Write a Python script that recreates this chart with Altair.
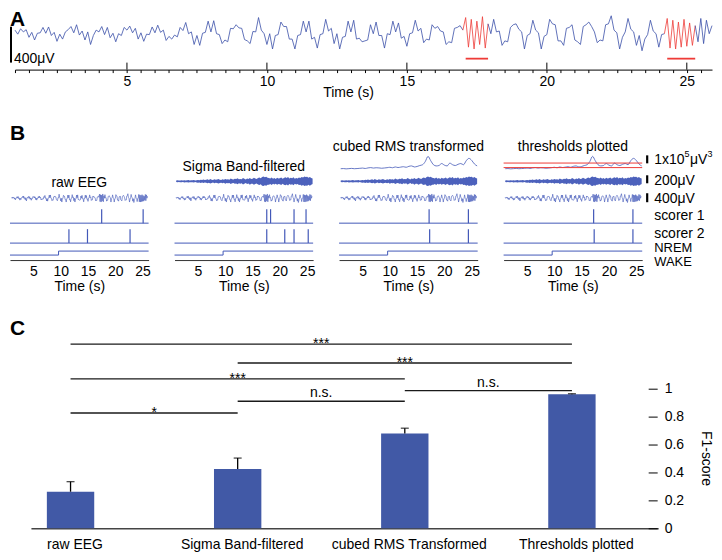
import altair as alt
import pandas as pd

FONT = "Liberation Sans"
BLUE = "#3a4fa8"
BLUE_B = "#4258b8"
RED = "#ee3b37"
BAR = "#4159a6"
INK = "#000000"

# ---------------- data ----------------
# Panel A: raw EEG trace (µV), one sample every 0.1 s starting at 1.0 s
EEG_T0 = 1.0
EEG_DT = 0.1
EEG_UV = [
    40, -5, 55, 20, 45, -40, 15, -70, 5, 10,
    70, 5, 75, -20, 15, -85, -5, -60, 20, 45,
    80, 10, 100, -15, 30, -70, 20, -120, -20, 40,
    20, 80, -10, 70, -45, 5, -90, 0, -20, 70,
    40, 85, 10, 60, -60, 10, -85, -5, -10, 75,
    10, 95, 15, 40, -75, -30, -60, -15, -35, 70,
    35, 125, 0, 20, -120, -20, -130, 5, 15, 140,
    20, 145, 0, -10, -110, -70, -90, 60, 55, 100,
    65, 60, -65, -80, -110, 25, 20, 180, 40, 0,
    -120, 0, -170, -20, -10, 130, 80, 80, -60, -60,
    -170, -20, -10, 140, 20, 140, -60, -40, -160, -10,
    0, 160, 30, 60, -110, 0, -170, -40, -30, 140,
    20, 150, -60, -50, -90, -80, -70, 100, 0, 130,
    -20, -20, -160, 0, -10, 140, 20, 120, -50, -30,
    -140, 0, 10, 150, 30, 60, -100, -60, -70, 100,
    60, 80, 30, 20, -120, -90, -100, 60, 70, 90,
    40, 180, -150, 160, -170, 140, -120, 190, -160, 110,
    0, 160, 20, 30, -130, -80, -90, 70, 100, 110,
    50, 20, -170, -20, 0, 150, 40, 10, -170, -30,
    -10, 160, 110, 100, -80, -80, -130, 60, 70, 100,
    -70, -90, -120, 80, 100, 130, 80, 20, -100, -70,
    -80, 100, 110, 200, 40, 10, -170, -40, 20, 170,
    50, 20, -130, -20, -190, -60, -10, 150, 30, 0,
    -150, -10, 0, 170, -160, 150, -170, 130, -150, 160,
    -140, 120, -130, 90, -90, 170, -110, 150, 0, 90,
]
SPINDLE_START = [17.1, 24.3]
SPINDLE_END = [17.9, 25.3]
A_MAJOR = [5, 10, 15, 20, 25]

# Panel B: sigma-band envelope (µV) every 0.25 s from 1.0 s
SIGMA_T0 = 1.0
SIGMA_DT = 0.25
SIGMA_ENV_UV = [
    20, 25, 18, 22, 24, 20, 28, 22, 26, 30, 22, 27, 25, 32, 20, 28,
    35, 28, 40, 30, 45, 30, 38, 50, 35, 55, 40, 32, 48, 36, 42, 55,
    40, 35, 50, 38, 60, 45, 52, 40, 70, 50, 45, 65, 55, 75, 48, 60,
    50, 80, 62, 45, 70, 55, 85, 60, 65, 90, 70, 55, 80, 95, 75, 110,
    120, 100, 115, 90, 85, 70, 95, 65, 80, 60, 90, 70, 75, 95, 65, 85,
    100, 80, 105, 70, 90, 75, 100, 65, 80, 70, 95, 85, 110, 95, 120, 105,
    115, 90, 110, 85, 70,
]
# cubed RMS (x1e5 µV^3) every 0.5 s from 1.0 s
RMS_T0 = 1.0
RMS_DT = 0.5
RMS_E5 = [
    0.20, 0.22, 0.18, 0.21, 0.24, 0.20, 0.22, 0.25, 0.28, 0.23,
    0.30, 0.34, 0.28, 0.32, 0.30, 0.26, 0.29, 0.33, 0.38, 0.32,
    0.42, 0.35, 0.40, 0.45, 0.38, 0.50, 0.55, 0.42, 0.48, 0.60,
    0.70, 1.10, 1.75, 1.20, 0.70, 0.55, 0.60, 0.85, 0.65, 0.55,
    0.90, 0.70, 0.60, 0.75, 0.85, 0.70, 1.20, 1.50, 1.25, 0.80,
    0.55,
]
THRESH_E5 = [0.91, 0.34]
HYP_T = [0.7, 9.6, 26.1]
HYP_STATE = ["WAKE", "NREM", "NREM"]
B_TITLES = ["raw EEG", "Sigma Band-filtered", "cubed RMS transformed", "thresholds plotted"]
SCORER1 = [[17.5, 25.1], [17.6, 18.3, 22.6, 24.8], [17.2, 24.4], [17.2, 24.4]]
SCORER2 = [[11.5, 14.9, 22.7], [17.6, 20.9, 22.6, 25.2], [17.3, 24.4], [17.3, 24.4]]
B_TICKS = [5, 10, 15, 20, 25]
B_SIDE_LABELS = ["200μV", "400μV", "scorer 1", "scorer 2", "NREM", "WAKE"]
RMS_UNIT_PARTS = ["1x10", "5", "μV", "3"]

# Panel C: F1 scores
METHODS = ["raw EEG", "Sigma Band-filtered", "cubed RMS Transformed", "Thresholds plotted"]
F1_MEAN = [0.262, 0.424, 0.679, 0.960]
F1_ERR = [0.072, 0.079, 0.038, 0.004]
SIG_FROM = [0, 1, 0, 2, 1, 0]
SIG_TO = [3, 3, 2, 3, 2, 1]
SIG_TEXT = ["***", "***", "***", "n.s.", "n.s.", "*"]
F1_TICKS = [0, 0.2, 0.4, 0.6, 0.8, 1]

# ---------------- layout ----------------
WA, HA = 706, 61
WB, HB = 139, 135
WC, HC = 650, 210
SIG_LEVEL = [1.319, 1.184, 1.071, 0.986, 0.910, 0.826]

# ---------------- panel A ----------------
xA = alt.Scale(domain=[1.0, 25.9], range=[5, 704], nice=False, zero=False)
yA = alt.Scale(domain=[-400, 278], nice=False, zero=False)
A_TICKS = [1.0 + 0.5 * k for k in range(50)]
axA = alt.Axis(values=A_TICKS, format="~g",
               labelExpr="datum.value % 5 === 0 ? datum.label : ''",
               labelOverlap=False, labelFlush=False,
               tickSize=3, tickColor=INK, tickWidth=1,
               domainColor=INK, domainWidth=1,
               labelPadding=2, labelFontSize=14, labelColor=INK,
               title="Time (s)", titleFontSize=14, titleFontWeight="normal",
               titleColor=INK, titleX=339, titleY=23, titleBaseline="middle",
               titleAlign="center", grid=False)

eeg_t = [round(EEG_T0 + EEG_DT * k, 3) for k in range(len(EEG_UV))]
rows = []
seg = 0
prev = None
for t, v in zip(eeg_t, EEG_UV):
    kind = "spindle" if any(a <= t <= b for a, b in zip(SPINDLE_START, SPINDLE_END)) else "eeg"
    if prev is not None and kind != prev[2]:
        seg += 1
        rows.append({"t": prev[0], "v": prev[1], "kind": kind, "seg": seg})
    rows.append({"t": t, "v": v, "kind": kind, "seg": seg})
    prev = (t, v, kind)
eeg = pd.DataFrame(rows)

trace = alt.Chart(eeg).mark_line(strokeWidth=0.8).encode(
    x=alt.X("t:Q", scale=xA, axis=axA),
    y=alt.Y("v:Q", scale=yA, axis=None),
    color=alt.Color("kind:N", scale=alt.Scale(domain=["eeg", "spindle"], range=[BLUE, RED]), legend=None),
    detail="seg:N",
)
majors = alt.Chart(pd.DataFrame({"t": A_MAJOR})).mark_rule(color=INK, strokeWidth=1).encode(
    x=alt.X("t:Q", scale=xA, axis=axA), y=alt.value(HA), y2=alt.value(HA - 7))
sbar = alt.Chart(pd.DataFrame({"a": [-322], "b": [78]})).mark_rule(color=INK, strokeWidth=2).encode(
    x=alt.value(1), y=alt.Y("a:Q", scale=yA, axis=None), y2="b:Q")
sbar_txt = alt.Chart(pd.DataFrame({"s": ["400μV"]})).mark_text(
    align="left", baseline="alphabetic", fontSize=14, color=INK).encode(
    text="s:N", x=alt.value(4), y=alt.value(54))
underline = alt.Chart(pd.DataFrame({"a": SPINDLE_START, "b": SPINDLE_END, "y": [-278, -278]})).mark_rule(
    color=RED, strokeWidth=1.8).encode(
    x=alt.X("a:Q", scale=xA, axis=axA), x2="b:Q", y=alt.Y("y:Q", scale=yA, axis=None))
letterA = alt.Chart(pd.DataFrame({"s": ["A"]})).mark_text(
    align="left", baseline="alphabetic", fontSize=21, fontWeight="bold", color=INK).encode(
    text="s:N", x=alt.value(0), y=alt.value(17))
panelA = alt.layer(trace, majors, sbar, sbar_txt, underline, letterA).properties(width=WA, height=HA)

# ---------------- panel B ----------------
xB = alt.Scale(domain=[0.7, 26.1], nice=False, zero=False)
yB = alt.Scale(domain=[0, HB], nice=False, zero=False)
ROW_RMS, ROW_SIG, ROW_RAW, ROW_S1, ROW_S2 = 90, 79, 62, 37, 17
LEVEL = {"WAKE": 5, "NREM": 9}
G_RAW = 9 / 400
G_SIG = 8 / 200
G_RMS = 8.0
EVT_H = 14
TITLE_Y = [58, 42, 22, 22]
SIDE_Y = [79, 61, 44, 26, 12.3, -1.5]
SIDE_FS = [14, 14, 14, 14, 13, 13]
UNIT_Y = 100
UNIT_DX = [0, 30.5, 36, 53.5]
UNIT_FS = [14, 9, 14, 9]
UNIT_DY = [0, -6, 0, -6]

axB = alt.Axis(values=B_TICKS, format="~g", ticks=False, labelPadding=4, labelFontSize=14,
               labelColor=INK, domainColor="#333333", domainWidth=1, title="Time (s)",
               titleFontSize=14, titleFontWeight="normal", titleColor=INK, titleY=27,
               titleBaseline="middle", grid=False, labelFlush=False)


def XB(f):
    return alt.X(f, scale=xB, axis=axB)


def YB(f):
    return alt.Y(f, scale=yB, axis=None)


raw_b = pd.DataFrame({"t": eeg_t, "y": [ROW_RAW + v * G_RAW for v in EEG_UV]})
sig_t = [round(SIGMA_T0 + SIGMA_DT * k, 3) for k in range(len(SIGMA_ENV_UV))]
sig_b = pd.DataFrame({"t": sig_t,
                      "lo": [ROW_SIG - e * G_SIG for e in SIGMA_ENV_UV],
                      "hi": [ROW_SIG + e * G_SIG for e in SIGMA_ENV_UV]})
rms_t = [round(RMS_T0 + RMS_DT * k, 3) for k in range(len(RMS_E5))]
rms_b = pd.DataFrame({"t": rms_t, "y": [ROW_RMS + r * G_RMS for r in RMS_E5]})
thr_b = pd.DataFrame({"y": [ROW_RMS + th * G_RMS for th in THRESH_E5]})
base_b = pd.DataFrame({"y": [ROW_S1, ROW_S2]})
hyp_b = pd.DataFrame({"t": HYP_T, "y": [LEVEL[s] for s in HYP_STATE]})
bar_c = [101, 81, 62.5]
bar_h = [1 * G_RMS, 200 * G_SIG, 400 * G_RAW]
bars_b = pd.DataFrame({"a": [c - h / 2 for c, h in zip(bar_c, bar_h)],
                       "b": [c + h / 2 for c, h in zip(bar_c, bar_h)]})


def txt(s, x, y_units, fs, dy=0):
    return alt.Chart(pd.DataFrame({"s": [s], "y": [y_units]})).mark_text(
        align="left", baseline="middle", fontSize=fs, color=INK, dy=dy).encode(
        text="s:N", x=alt.value(x), y=YB("y:Q"))


def panel_b(i):
    ev = [{"t": t, "y0": ROW_S1, "y1": ROW_S1 + EVT_H} for t in SCORER1[i]] + \
         [{"t": t, "y0": ROW_S2, "y1": ROW_S2 + EVT_H} for t in SCORER2[i]]
    ev = pd.DataFrame(ev)
    L = [alt.Chart(raw_b).mark_line(color=BLUE_B, strokeWidth=0.6).encode(x=XB("t:Q"), y=YB("y:Q"))]
    if i >= 1:
        L.append(alt.Chart(sig_b).mark_area(color=BLUE_B, opacity=0.95).encode(
            x=XB("t:Q"), y=YB("lo:Q"), y2="hi:Q"))
    if i >= 2:
        L.append(alt.Chart(rms_b).mark_line(color=BLUE_B, strokeWidth=0.8, interpolate="monotone").encode(
            x=XB("t:Q"), y=YB("y:Q")))
    if i == 3:
        L.append(alt.Chart(thr_b).mark_rule(color=RED, strokeWidth=1).encode(
            x=alt.value(0), x2=alt.value(WB), y=YB("y:Q")))
    L.append(alt.Chart(base_b).mark_rule(color=BLUE_B, strokeWidth=1).encode(
        x=alt.value(0), x2=alt.value(WB), y=YB("y:Q")))
    L.append(alt.Chart(ev).mark_rule(color=BLUE_B, strokeWidth=1.2).encode(
        x=XB("t:Q"), y=YB("y0:Q"), y2="y1:Q"))
    L.append(alt.Chart(hyp_b).mark_line(color=BLUE_B, strokeWidth=1, interpolate="step-after").encode(
        x=XB("t:Q"), y=YB("y:Q")))
    L.append(alt.Chart(pd.DataFrame({"s": [B_TITLES[i]]})).mark_text(
        fontSize=14, color=INK, baseline="middle", align="center").encode(
        text="s:N", x=alt.value(WB / 2), y=alt.value(TITLE_Y[i])))
    if i == 0:
        L.append(alt.Chart(pd.DataFrame({"s": ["B"]})).mark_text(
            align="left", baseline="alphabetic", fontSize=21, fontWeight="bold", color=INK).encode(
            text="s:N", x=alt.value(0), y=alt.value(15)))
    if i == 3:
        x0 = WB + 12
        for s, yy, fs in zip(B_SIDE_LABELS, SIDE_Y, SIDE_FS):
            L.append(txt(s, x0, yy, fs))
        for s, dx, fs, dy in zip(RMS_UNIT_PARTS, UNIT_DX, UNIT_FS, UNIT_DY):
            L.append(txt(s, x0 + dx, UNIT_Y, fs, dy))
        L.append(alt.Chart(bars_b).mark_rule(color=INK, strokeWidth=2.2).encode(
            x=alt.value(WB + 5), y=YB("a:Q"), y2="b:Q"))
    return alt.layer(*L).properties(width=WB, height=HB)


rowB = alt.hconcat(*[panel_b(i) for i in range(4)], spacing=26, bounds="flush")

# ---------------- panel C ----------------
xC = alt.Scale(domain=[-0.237, 3.516], range=[21, WC], nice=False, zero=False, padding=0)
yC = alt.Scale(domain=[0, 1.5], nice=False, padding=0)
names = ",".join("'" + m + "'" for m in METHODS)
axCx = alt.Axis(values=[0, 1, 2, 3], labelExpr="[" + names + "][datum.value]", ticks=False,
                labelPadding=9, labelFontSize=14, labelColor=INK, domainColor="#444444",
                domainWidth=1.5, labelOffset=4, title=None, grid=False, labelFlush=False)
axCy = alt.Axis(orient="right", values=F1_TICKS, format="~g", offset=-10, tickSize=9,
                tickColor=INK, tickWidth=1, domain=False, labelPadding=7, labelFontSize=14,
                labelColor=INK, title=None, grid=False)

f1 = pd.DataFrame({"i": list(range(len(METHODS))), "m": F1_MEAN,
                   "hi": [m + e for m, e in zip(F1_MEAN, F1_ERR)]})
XC = alt.X("i:Q", scale=xC, axis=axCx)
bars = alt.Chart(f1).mark_bar(size=47.5, color=BAR).encode(x=XC, y=alt.Y("m:Q", scale=yC, axis=axCy))
errs = alt.Chart(f1).mark_rule(color=INK, strokeWidth=1.3).encode(
    x=XC, y=alt.Y("m:Q", scale=yC, axis=axCy), y2="hi:Q")
caps = alt.Chart(f1).mark_tick(orient="horizontal", size=8, thickness=1.3, color=INK).encode(
    x=XC, y=alt.Y("hi:Q", scale=yC, axis=axCy))

sig = pd.DataFrame({"a": SIG_FROM, "b": SIG_TO, "txt": SIG_TEXT, "lvl": SIG_LEVEL,
                    "mid": [(a + b) / 2 for a, b in zip(SIG_FROM, SIG_TO)]})
sig_lines = alt.Chart(sig).mark_rule(color="#1a1a1a", strokeWidth=1.3).encode(
    x=alt.X("a:Q", scale=xC, axis=axCx), x2="b:Q", y=alt.Y("lvl:Q", scale=yC, axis=axCy))
sig_star = alt.Chart(sig).transform_filter("datum.txt != 'n.s.'").mark_text(
    fontSize=14, baseline="alphabetic", dy=4, color=INK).encode(
    x=alt.X("mid:Q", scale=xC, axis=axCx), y=alt.Y("lvl:Q", scale=yC, axis=axCy), text="txt:N")
sig_ns = alt.Chart(sig).transform_filter("datum.txt == 'n.s.'").mark_text(
    fontSize=14, baseline="alphabetic", dy=-4, color=INK).encode(
    x=alt.X("mid:Q", scale=xC, axis=axCx), y=alt.Y("lvl:Q", scale=yC, axis=axCy), text="txt:N")
letterC = alt.Chart(pd.DataFrame({"s": ["C"]})).mark_text(
    align="left", baseline="alphabetic", fontSize=21, fontWeight="bold", color=INK).encode(
    text="s:N", x=alt.value(0), y=alt.value(16))
f1title = alt.Chart(pd.DataFrame({"s": ["F1-score"]})).mark_text(
    angle=90, align="center", baseline="middle", fontSize=14, color=INK).encode(
    text="s:N", x=alt.value(WC + 48), y=alt.value(HC - 0.5 * 140))
panelC = alt.layer(bars, errs, caps, sig_lines, sig_star, sig_ns, letterC, f1title).properties(
    width=WC, height=HC)

chart = alt.vconcat(panelA, rowB, panelC, spacing=24).properties(
    padding=0, background="white"
).configure(font=FONT).configure_view(strokeWidth=0).configure_axis(labelFont=FONT, titleFont=FONT)

chart.save("out.html", embed_options={"renderer": "svg", "actions": False})
